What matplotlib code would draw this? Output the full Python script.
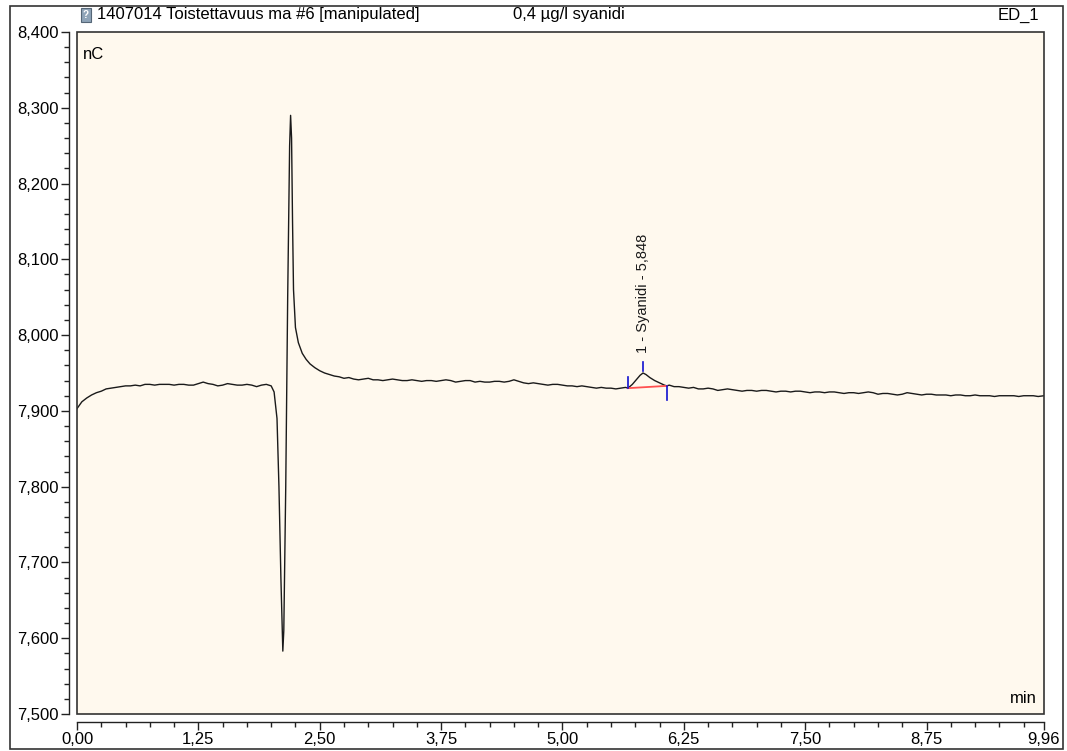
import numpy as np
import matplotlib
matplotlib.use("Agg")
import matplotlib.pyplot as plt
from matplotlib.patches import Rectangle
from matplotlib.ticker import FixedLocator, MultipleLocator

plt.rcParams['font.family'] = ['Liberation Sans', 'DejaVu Sans']

# ---------------- data ----------------
time_min = [
    0.00, 0.05, 0.10, 0.15, 0.20, 0.25, 0.30, 0.35, 0.40, 0.45,
    0.50, 0.55, 0.60, 0.65, 0.70, 0.75, 0.80, 0.85, 0.90, 0.95,
    1.00, 1.05, 1.10, 1.15, 1.20, 1.25, 1.30, 1.35, 1.40, 1.45,
    1.50, 1.55, 1.60, 1.65, 1.70, 1.75, 1.80, 1.85, 1.90, 1.95,
    2.00, 2.03, 2.06, 2.08, 2.10, 2.12, 2.13, 2.15, 2.17, 2.19,
    2.20, 2.21, 2.22, 2.23, 2.25, 2.28, 2.32, 2.36, 2.40, 2.45,
    2.50, 2.55, 2.60, 2.65, 2.70, 2.75, 2.80, 2.85, 2.90, 2.95,
    3.00, 3.05, 3.10, 3.15, 3.20, 3.25, 3.30, 3.35, 3.40, 3.45,
    3.50, 3.55, 3.60, 3.65, 3.70, 3.75, 3.80, 3.85, 3.90, 3.95,
    4.00, 4.05, 4.10, 4.15, 4.20, 4.25, 4.30, 4.35, 4.40, 4.45,
    4.50, 4.55, 4.60, 4.65, 4.70, 4.75, 4.80, 4.85, 4.90, 4.95,
    5.00, 5.05, 5.10, 5.15, 5.20, 5.25, 5.30, 5.35, 5.40, 5.45,
    5.50, 5.55, 5.60, 5.65, 5.675, 5.72, 5.76, 5.80, 5.83, 5.86,
    5.90, 5.95, 6.00, 6.05, 6.075, 6.10, 6.15, 6.20, 6.25, 6.30,
    6.35, 6.40, 6.45, 6.50, 6.55, 6.60, 6.65, 6.70, 6.75, 6.80,
    6.85, 6.90, 6.95, 7.00, 7.05, 7.10, 7.15, 7.20, 7.25, 7.30,
    7.35, 7.40, 7.45, 7.50, 7.55, 7.60, 7.65, 7.70, 7.75, 7.80,
    7.85, 7.90, 7.95, 8.00, 8.05, 8.10, 8.15, 8.20, 8.25, 8.30,
    8.35, 8.40, 8.45, 8.50, 8.55, 8.60, 8.65, 8.70, 8.75, 8.80,
    8.85, 8.90, 8.95, 9.00, 9.05, 9.10, 9.15, 9.20, 9.25, 9.30,
    9.35, 9.40, 9.45, 9.50, 9.55, 9.60, 9.65, 9.70, 9.75, 9.80,
    9.85, 9.90, 9.96,
]
signal_nC = [
    7903, 7912, 7917, 7921, 7924, 7926, 7929, 7930, 7931, 7932,
    7933, 7933, 7934, 7933, 7935, 7935, 7934, 7935, 7935, 7935,
    7934, 7935, 7935, 7934, 7934, 7936, 7938, 7936, 7935, 7933,
    7934, 7936, 7935, 7934, 7934, 7935, 7934, 7932, 7934, 7935,
    7933, 7925, 7890, 7800, 7680, 7583, 7610, 7800, 8050, 8250,
    8290, 8260, 8150, 8060, 8010, 7990, 7976, 7968, 7962, 7957,
    7953, 7950, 7948, 7946, 7945, 7943, 7944, 7942, 7941, 7942,
    7943, 7941, 7941, 7940, 7941, 7942, 7941, 7940, 7940, 7941,
    7940, 7939, 7940, 7940, 7939, 7940, 7941, 7940, 7938, 7939,
    7940, 7940, 7938, 7939, 7938, 7938, 7939, 7939, 7938, 7939,
    7941, 7939, 7937, 7936, 7937, 7936, 7935, 7934, 7935, 7935,
    7934, 7933, 7933, 7932, 7933, 7932, 7931, 7930, 7931, 7930,
    7930, 7929, 7930, 7931, 7930, 7935, 7941, 7947, 7950, 7948,
    7944, 7940, 7937, 7934, 7933, 7934, 7932, 7932, 7931, 7930,
    7931, 7929, 7929, 7930, 7929, 7927, 7928, 7929, 7928, 7927,
    7926, 7927, 7927, 7926, 7927, 7927, 7926, 7925, 7926, 7926,
    7925, 7926, 7926, 7925, 7924, 7925, 7925, 7924, 7925, 7925,
    7924, 7923, 7924, 7924, 7923, 7924, 7925, 7924, 7922, 7923,
    7923, 7922, 7921, 7922, 7924, 7923, 7922, 7921, 7922, 7922,
    7921, 7921, 7921, 7920, 7921, 7921, 7920, 7920, 7921, 7920,
    7920, 7920, 7919, 7920, 7920, 7920, 7920, 7919, 7920, 7920,
    7920, 7919, 7920,
]

# integrated peak
peak_label = "1 - Syanidi - 5,848"
peak_rt = 5.83
peak_top = 7950
peak_start = (5.675, 7930)
peak_end = (6.075, 7933)

x_major_ticks = [0.00, 1.25, 2.50, 3.75, 5.00, 6.25, 7.50, 8.75, 9.96]
x_tick_labels = ["0,00", "1,25", "2,50", "3,75", "5,00", "6,25", "7,50", "8,75", "9,96"]
y_major_ticks = [7500, 7600, 7700, 7800, 7900, 8000, 8100, 8200, 8300, 8400]
y_tick_labels = ["7,500", "7,600", "7,700", "7,800", "7,900", "8,000", "8,100", "8,200", "8,300", "8,400"]

title_left = "1407014 Toistettavuus ma #6 [manipulated]"
title_mid = "0,4 µg/l syanidi"
title_right = "ED_1"

# ---------------- figure ----------------
W, H = 1067, 751
fig = plt.figure(figsize=(W / 100, H / 100), dpi=100)
fig.patch.set_facecolor('white')

def fx(px):
    return px / W

def fy(py):
    return 1 - py / H

ax_l, ax_r, ax_t, ax_b = 77, 1044, 32, 714
ax = fig.add_axes([fx(ax_l), fy(ax_b), fx(ax_r - ax_l), (ax_b - ax_t) / H])
ax.set_facecolor('#FFF9EE')

ax.plot(time_min, signal_nC, color='#1a1a1a', lw=1.0, solid_joinstyle='round')

# peak baseline and markers
ax.plot([peak_start[0], peak_end[0]], [peak_start[1], peak_end[1]],
        color='#FF5050', lw=1.3)
ax.plot([peak_start[0], peak_start[0]], [peak_start[1], peak_start[1] + 15],
        color='#1010D0', lw=1.2)
ax.plot([peak_end[0], peak_end[0]], [peak_end[1], peak_end[1] - 18],
        color='#1010D0', lw=1.2)
ax.plot([peak_rt, peak_rt], [peak_top + 2, peak_top + 14],
        color='#1010D0', lw=1.2)
ax.text(peak_rt, peak_top + 26, peak_label, rotation=90, ha='center', va='bottom',
        fontsize=10.5, color='#1a1a1a')

ax.set_xlim(0, 9.96)
ax.set_ylim(7500, 8400)

# spines
for s in ('top', 'right'):
    ax.spines[s].set_visible(False)
ax.spines['left'].set_position(('outward', 5.8))
ax.spines['bottom'].set_position(('outward', 5.8))
for s in ('left', 'bottom'):
    ax.spines[s].set_color('#222222')
    ax.spines[s].set_linewidth(1.0)

# box around plot area
ax.add_patch(Rectangle((0, 0), 1, 1, transform=ax.transAxes, fill=False,
                       edgecolor='#333333', lw=1.2, clip_on=False, zorder=5))

ax.xaxis.set_major_locator(FixedLocator(x_major_ticks))
ax.set_xticklabels(x_tick_labels)
ax.xaxis.set_minor_locator(MultipleLocator(0.25))
ax.yaxis.set_major_locator(FixedLocator(y_major_ticks))
ax.set_yticklabels(y_tick_labels)
ax.yaxis.set_minor_locator(MultipleLocator(20))

ax.tick_params(axis='y', which='major', direction='out', length=5.5, width=1.0,
               labelsize=12, pad=2, color='#222222')
ax.tick_params(axis='y', which='minor', direction='out', length=3.5, width=1.0,
               color='#222222')
ax.tick_params(axis='x', which='major', direction='out', length=6, width=1.0,
               labelsize=12, pad=1, color='#222222')
ax.tick_params(axis='x', which='minor', direction='out', length=3.5, width=1.0,
               color='#222222')

ax.text(0.006, 0.978, "nC", transform=ax.transAxes, ha='left', va='top', fontsize=12)
ax.text(0.993, 0.012, "min", transform=ax.transAxes, ha='right', va='bottom', fontsize=12)

# header texts
fig.text(fx(97), fy(15), title_left, ha='left', va='center', fontsize=12)
fig.text(fx(513), fy(15), title_mid, ha='left', va='center', fontsize=12)
fig.text(fx(1039), fy(15), title_right, ha='right', va='center', fontsize=12)

# little document icon
fig.patches.append(Rectangle((fx(81), fy(22)), fx(10), 14 / H, transform=fig.transFigure,
                             facecolor='#8FA4B8', edgecolor='#556677', lw=0.8))
fig.text(fx(86), fy(15), "?", ha='center', va='center', fontsize=7, color='white',
         fontweight='bold')

# outer frame
fig.patches.append(Rectangle((fx(10), fy(749)), fx(1053), 743 / H, transform=fig.transFigure,
                             fill=False, edgecolor='#333333', lw=1.2))

fig.savefig("out.png", dpi=100)
